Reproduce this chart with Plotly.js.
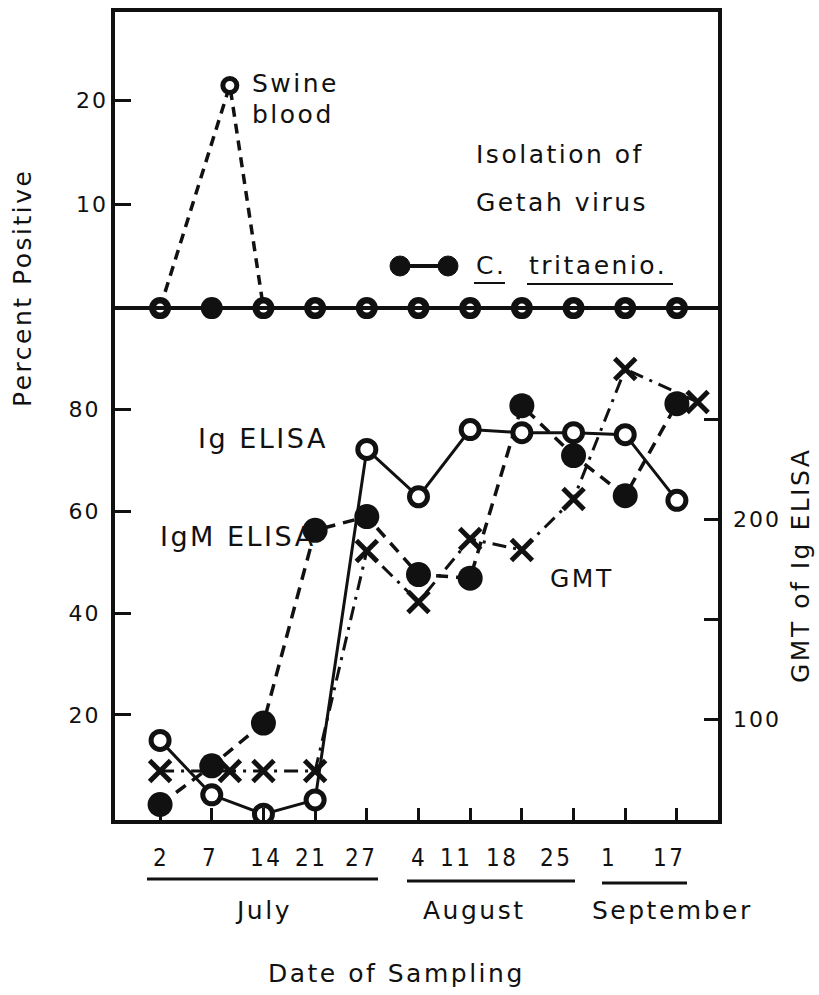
<!DOCTYPE html>
<html>
<head>
<meta charset="utf-8">
<script src="https://cdn.plot.ly/plotly-3.0.1.min.js"></script>
<style>
  html, body { margin: 0; padding: 0; background: #fff; }
  .annotation-text { letter-spacing: 2.5px; }
  .ytick text, .y2tick text, .y3tick text { letter-spacing: 2px; }
</style>
</head>
<body>
<div id="chart" style="width:819px;height:995px;"></div>
<script>
// ---------------- data ----------------
const dateLabels = ['2', '7', '14', '21', '27', '4', '11', '18', '25', '1', '17'];
const monthLabels = ['July', 'August', 'September'];

// Percent positive, Ig ELISA (open circles, solid line)
const igElisa = [15, 4.3, 0.5, 3.3, 72.2, 62.9, 76.1, 75.5, 75.5, 75.1, 62.2];
// Percent positive, IgM ELISA (filled circles, dashed line)
const igmElisa = [2.4, 10, 18.4, 56.3, 59, 47.6, 46.9, 80.8, 71, 63.1, 81.2];
// GMT of Ig ELISA (x marks, dash-dot line), right axis
const gmtX = [0, 1.35, 2, 3, 4, 5, 6, 7, 8, 9, 10.4];
const gmt = [74, 74, 74, 74, 184, 158.5, 190, 184.5, 210, 275, 258.5];
// Isolation of Getah virus (percent positive)
const swineX = [0, 1.35, 2, 3, 4, 5, 6, 7, 8, 9, 10];
const swineBlood = [0, 21.4, 0, 0, 0, 0, 0, 0, 0, 0, 0];
const cTritaenio = [0, 0, 0, 0, 0, 0, 0, 0, 0, 0, 0];

// ---------------- layout helpers ----------------
const W = 819, H = 995;
const L = 115, R = 718, T = 12, B = 820;
const px = v => (v - L) / (R - L);
const py = v => (B - v) / (B - T);
const idx = dateLabels.map((_, i) => i);

const FONT = 'DejaVu Sans, Verdana, sans-serif';
const COND = 'DejaVu Sans Condensed, DejaVu Sans, sans-serif';
const INK = '#111';

// label placement tweaks (pixels) to follow the typed labels of the original
const dateShift = [1, -2, 3, -4, -6, 1, -14, -20, -18, -16, -8];
const monthCenter = [263, 475, 672];
const monthLine = [[147, 378], [407, 575], [602, 687]];

const traces = [
  {
    name: 'C. tritaenio.', x: idx, y: cTritaenio, yaxis: 'y2',
    mode: 'lines+markers',
    line: {color: INK, width: 4},
    marker: {symbol: 'circle', size: 22, color: INK}
  },
  {
    name: 'Swine blood', x: swineX, y: swineBlood, yaxis: 'y2',
    mode: 'lines+markers',
    line: {color: INK, width: 3.5, dash: '10px,7px'},
    marker: {symbol: 'circle', size: 14, color: '#fff', line: {color: INK, width: 5}}
  },
  {
    name: 'GMT', x: gmtX, y: gmt, yaxis: 'y3',
    mode: 'lines+markers',
    line: {color: INK, width: 3, dash: '14px,7px,3px,7px'},
    marker: {symbol: 'x-thin-open', size: 21, color: INK, line: {color: INK, width: 5}}
  },
  {
    name: 'IgM ELISA', x: idx, y: igmElisa, yaxis: 'y',
    mode: 'lines+markers',
    line: {color: INK, width: 3.5, dash: '12px,8px'},
    marker: {symbol: 'circle', size: 25, color: INK}
  },
  {
    name: 'Ig ELISA', x: idx, y: igElisa, yaxis: 'y',
    mode: 'lines+markers',
    line: {color: INK, width: 3},
    marker: {symbol: 'circle', size: 18, color: '#fff', line: {color: INK, width: 5}}
  }
];

const annotations = [];
function txt(text, x, y, opts) {
  annotations.push(Object.assign({
    text: text, xref: 'paper', yref: 'paper', x: px(x), y: py(y),
    showarrow: false, xanchor: 'left', yanchor: 'middle',
    font: {family: FONT, size: 25, color: INK}
  }, opts || {}));
}
// date tick labels
dateLabels.forEach((d, i) => {
  annotations.push({
    text: d, xref: 'x', x: i, yref: 'paper', y: py(858), xshift: dateShift[i],
    showarrow: false, xanchor: 'center', yanchor: 'middle',
    font: {family: COND, size: 24, color: INK}
  });
});
monthLabels.forEach((m, i) => txt(m, monthCenter[i], 910, {xanchor: 'center'}));
txt('Date of Sampling', 396, 973, {xanchor: 'center'});
txt('Percent Positive', 22, 288, {xanchor: 'center', textangle: -90});
txt('GMT of Ig ELISA', 800, 566, {xanchor: 'center', textangle: -90});
txt('Swine', 250, 84);
txt('blood', 250, 114);
txt('Isolation of', 474, 154);
txt('Getah virus', 474, 202);
txt('C.', 474, 266);
txt('tritaenio.', 527, 266);
const big = {family: FONT, size: 27, color: INK};
txt('Ig ELISA', 196, 438, {font: big});
txt('IgM ELISA', 158, 536, {font: big});
txt('GMT', 548, 578);

const shapes = [
  // baseline of the isolation panel
  {type: 'line', xref: 'paper', x0: 0, x1: 1, yref: 'y2', y0: 0, y1: 0,
   line: {color: INK, width: 4}},
  // key: filled circles joined by a line
  {type: 'line', xref: 'paper', yref: 'paper', x0: px(400), x1: px(448), y0: py(266), y1: py(266),
   line: {color: INK, width: 4}},
  {type: 'circle', xref: 'paper', yref: 'paper', xsizemode: 'pixel', ysizemode: 'pixel',
   xanchor: px(400), yanchor: py(266), x0: -10, x1: 10, y0: -10, y1: 10,
   fillcolor: INK, line: {color: INK, width: 1}},
  {type: 'circle', xref: 'paper', yref: 'paper', xsizemode: 'pixel', ysizemode: 'pixel',
   xanchor: px(448), yanchor: py(266), x0: -10, x1: 10, y0: -10, y1: 10,
   fillcolor: INK, line: {color: INK, width: 1}},
  // underlines of the species name
  {type: 'line', xref: 'paper', yref: 'paper', x0: px(474), x1: px(505), y0: py(283), y1: py(283),
   line: {color: INK, width: 2}},
  {type: 'line', xref: 'paper', yref: 'paper', x0: px(527), x1: px(673), y0: py(284), y1: py(284),
   line: {color: INK, width: 2}}
];
monthLine.forEach(([a, b], i) => {
  shapes.push({type: 'line', xref: 'paper', yref: 'paper', x0: px(a), x1: px(b),
    y0: py(879 + 2 * i), y1: py(879 + 2 * i), line: {color: INK, width: 3}});
});

const tickFont = {family: FONT, size: 22, color: INK};
const layout = {
  width: W, height: H,
  margin: {l: L, r: W - R, t: T, b: H - B, pad: 0},
  paper_bgcolor: '#fff', plot_bgcolor: '#fff',
  showlegend: false,
  xaxis: {
    range: [-0.872, 10.795], tickmode: 'array', tickvals: idx, showticklabels: false,
    ticks: 'inside', ticklen: 12, tickwidth: 3, tickcolor: INK,
    showline: true, linewidth: 4, linecolor: INK, mirror: true,
    showgrid: false, zeroline: false
  },
  yaxis: {
    range: [-0.65, 158.2], tickmode: 'array', tickvals: [20, 40, 60, 80],
    ticks: 'inside', ticklen: 16, tickwidth: 3, tickcolor: INK,
    showline: true, linewidth: 4, linecolor: INK, mirror: true,
    showgrid: false, zeroline: false, tickfont: tickFont, ticklabelstandoff: 6
  },
  yaxis2: {
    overlaying: 'y', side: 'left', anchor: 'x',
    range: [-49.2, 28.46], tickmode: 'array', tickvals: [10, 20],
    ticks: 'inside', ticklen: 16, tickwidth: 3, tickcolor: INK,
    showline: false, showgrid: false, zeroline: false, tickfont: tickFont, ticklabelstandoff: 6
  },
  yaxis3: {
    overlaying: 'y', side: 'right', anchor: 'x',
    range: [49.5, 453.5], tickmode: 'array', tickvals: [100, 150, 200, 250],
    ticktext: ['100', '', '200', ''],
    ticks: 'inside', ticklen: 14, tickwidth: 3, tickcolor: INK,
    showline: false, showgrid: false, zeroline: false, tickfont: tickFont, ticklabelstandoff: 14
  },
  annotations: annotations,
  shapes: shapes
};

Plotly.newPlot('chart', traces, layout, {staticPlot: true, displayModeBar: false});
</script>
</body>
</html>
